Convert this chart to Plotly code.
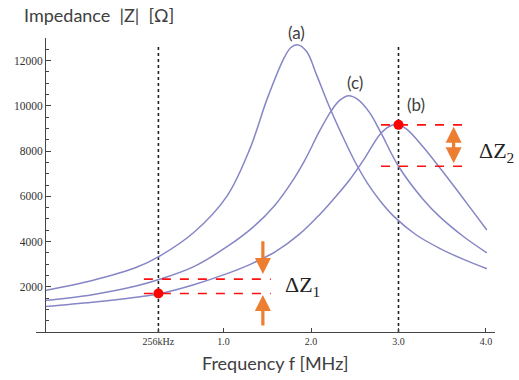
import plotly.graph_objects as go

# ---- data ----
f_a = [-1.04, -0.5, 0.0, 0.28, 0.66, 1.04, 1.3, 1.5, 1.69, 1.77, 1.845, 1.95, 2.065, 2.2, 2.35, 2.5, 2.65, 2.8, 2.95, 3.2, 3.47, 3.75, 4.01]
z_a = [1840, 2280, 2850, 3380, 4400, 6010, 8085, 10320, 12100, 12580, 12700, 12400, 11360, 10050, 8750, 7550, 6550, 5750, 5100, 4300, 3700, 3200, 2800]

f_c = [-1.04, -0.5, 0.0, 0.28, 0.66, 1.04, 1.345, 1.59, 1.8, 1.93, 2.1, 2.235, 2.33, 2.43, 2.53, 2.67, 2.8, 3.0, 3.28, 3.47, 3.75, 4.01]
z_c = [1390, 1650, 2030, 2340, 2890, 3770, 4660, 5620, 6750, 7600, 8900, 9800, 10250, 10450, 10300, 9700, 8800, 7330, 5870, 5100, 4200, 3500]

f_b = [-1.04, -0.5, 0.0, 0.28, 0.66, 1.04, 1.3, 1.46, 1.59, 1.875, 2.1, 2.25, 2.44, 2.6, 2.8, 2.93, 3.0, 3.1, 3.28, 3.58, 3.84, 4.01]
z_b = [1130, 1320, 1540, 1700, 2090, 2580, 2980, 3280, 3540, 4350, 5200, 5840, 6720, 7600, 8790, 9150, 9160, 8950, 8190, 6720, 5390, 4510]

tick_vals_x = [0.256, 1.0, 2.0, 3.0, 4.0]
tick_text_x = ["256kHz", "1.0", "2.0", "3.0", "4.0"]
tick_vals_y = [2000, 4000, 6000, 8000, 10000, 12000]
tick_text_y = ["2000", "4000", "6000", "8000", "10000", "12000"]
minor_vals_y = [500 * i for i in range(1, 27)]

mark_f = [0.256, 3.0]           # dotted marker frequencies
dot_z = [1700, 9160]            # red points
dz1_levels = [2340, 1700]       # ΔZ1 dashed levels
dz2_levels = [9160, 7330]       # ΔZ2 dashed levels
dz1_span = [0.09, 1.54]
dz2_span = [2.8, 3.82]
curve_labels = ["(a)", "(c)", "(b)"]

CURVE = "#8686C6"
ORANGE = "#ED7D31"
GRAY = "#404040"

fig = go.Figure()

# vertical dotted lines
for fm in mark_f:
    fig.add_trace(go.Scatter(x=[fm, fm], y=[0, 12600], mode="lines",
                             line=dict(color="#222222", width=1.6, dash="dot"),
                             hoverinfo="skip", showlegend=False))

for fx, zy in [(f_a, z_a), (f_c, z_c), (f_b, z_b)]:
    fig.add_trace(go.Scatter(x=fx, y=zy, mode="lines",
                             line=dict(color=CURVE, width=1.5, shape="spline", smoothing=1.0),
                             showlegend=False))

# dashed red lines
for lv in dz1_levels:
    fig.add_trace(go.Scatter(x=dz1_span, y=[lv, lv], mode="lines",
                             line=dict(color="#FF1010", width=1.6, dash="dash"),
                             showlegend=False))
for lv in dz2_levels:
    fig.add_trace(go.Scatter(x=dz2_span, y=[lv, lv], mode="lines",
                             line=dict(color="#FF1010", width=1.6, dash="dash"),
                             showlegend=False))

fig.add_trace(go.Scatter(x=mark_f, y=dot_z, mode="markers",
                         marker=dict(color="#FF0000", size=10), showlegend=False))

ann = []
# arrows
ann.append(dict(x=1.45, y=2560, ax=1.45, ay=4080, xref="x", yref="y", axref="x", ayref="y",
                text="", showarrow=True, arrowhead=2, arrowsize=1, arrowwidth=3.2, arrowcolor=ORANGE, standoff=0))
ann.append(dict(x=1.45, y=1640, ax=1.45, ay=220, xref="x", yref="y", axref="x", ayref="y",
                text="", showarrow=True, arrowhead=2, arrowsize=1, arrowwidth=3.2, arrowcolor=ORANGE, standoff=0))
ann.append(dict(x=3.63, y=9080, ax=3.63, ay=7400, xref="x", yref="y", axref="x", ayref="y",
                text="", showarrow=True, arrowhead=2, arrowside="end+start", arrowsize=1,
                arrowwidth=3.2, arrowcolor=ORANGE, standoff=0, startstandoff=0))

# curve labels (paper y so that the top label is not hidden)
for lab, lx, ly in zip(curve_labels, [1.83, 2.5, 3.2], [1.061, 0.891, 0.816]):
    ann.append(dict(x=lx, y=ly, xref="x", yref="paper", text=lab, showarrow=False,
                    font=dict(family="Lato", size=17, color=GRAY)))

ann.append(dict(x=1.9, y=2050, xref="x", yref="y", text="ΔZ<sub>1</sub>", showarrow=False,
                xanchor="center", yanchor="middle",
                font=dict(family="Liberation Serif", size=22, color="#222222")))
ann.append(dict(x=3.9, y=7950, xref="x", yref="y", text="ΔZ<sub>2</sub>", showarrow=False,
                xanchor="left", yanchor="middle",
                font=dict(family="Liberation Serif", size=22, color="#222222")))

# axis titles
ann.append(dict(x=-0.03, y=1.0, xref="paper", yref="paper", text="Impedance  |Z|  [Ω]",
                showarrow=False, xanchor="left", yanchor="bottom", yshift=10,
                font=dict(family="Lato", size=18, color=GRAY)))
ann.append(dict(x=0.52, y=0, xref="paper", yref="paper", text="Frequency f [MHz]", showarrow=False,
                xanchor="center", yanchor="top", yshift=-18,
                font=dict(family="Lato", size=18, color=GRAY)))

fig.update_layout(
    width=519, height=380,
    margin=dict(l=36, r=24, t=38, b=48),
    plot_bgcolor="white", paper_bgcolor="white",
    annotations=ann,
    xaxis=dict(range=[-1.143, 4.103], showgrid=False, zeroline=False,
               showline=True, linecolor="#444444", linewidth=1,
               ticks="inside", ticklen=4, tickcolor="#444444",
               tickmode="array", tickvals=tick_vals_x, ticktext=tick_text_x,
               tickfont=dict(family="Liberation Serif", size=10, color="#333333")),
    yaxis=dict(range=[0, 13000], showgrid=False, zeroline=False,
               anchor="free", position=0.0196,
               showline=True, linecolor="#444444", linewidth=1,
               ticks="inside", ticklen=5, tickcolor="#444444",
               tickmode="array", tickvals=tick_vals_y, ticktext=tick_text_y,
               tickfont=dict(family="Liberation Serif", size=11.5, color="#333333"),
               minor=dict(ticks="inside", ticklen=3, tickcolor="#444444",
                          tickmode="array", tickvals=minor_vals_y, showgrid=False)),
)

fig.write_html("out.html")
